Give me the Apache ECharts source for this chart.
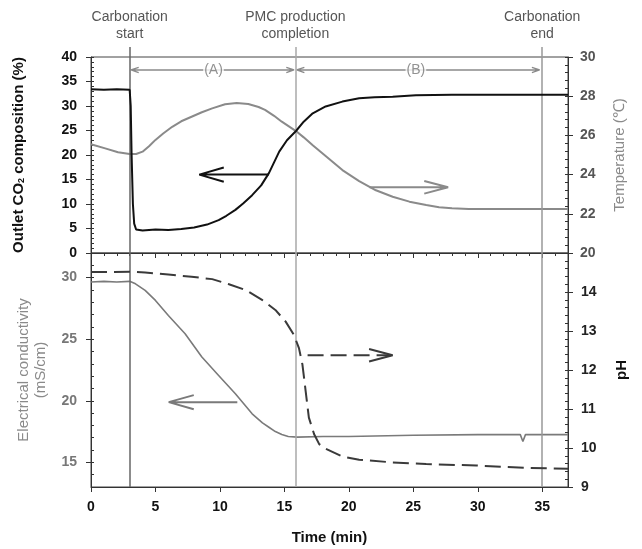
<!DOCTYPE html>
<html>
<head>
<meta charset="utf-8">
<script src="https://cdn.jsdelivr.net/npm/echarts@6/dist/echarts.min.js"></script>
<style>html,body{margin:0;padding:0;background:#fff;}#c{width:642px;height:549px;}</style>
</head>
<body>
<div id="c"></div>
<script>
// ---------- data ----------
const co2Time = [0, 1, 2, 3.0, 3.08, 3.15, 3.25, 3.35, 3.5, 4, 5, 6, 7, 8, 9, 9.9, 10.5, 11.2, 11.8, 12.5, 13.2, 13.8, 14.2, 14.6, 15.2, 15.9, 16.5, 17.2, 18.2, 19.5, 20.8, 22, 23.4, 25.2, 28, 32, 37];
const co2Value = [33.4, 33.3, 33.4, 33.3, 30, 20, 10, 6, 4.8, 4.6, 4.8, 4.7, 4.9, 5.2, 5.8, 6.7, 7.6, 8.8, 10.1, 11.8, 13.8, 16.3, 18.5, 20.7, 23.0, 24.9, 26.8, 28.5, 29.9, 30.9, 31.6, 31.8, 31.9, 32.2, 32.3, 32.3, 32.3];

const tempTime = [0, 1.1, 2.1, 3.0, 3.5, 4.0, 4.5, 5.0, 5.6, 6.3, 7.0, 7.8, 8.6, 9.4, 10.4, 11.3, 12.2, 13.0, 13.5, 14.2, 14.8, 15.9, 16.5, 17.2, 18.2, 19.5, 20.8, 22.1, 23.4, 24.7, 26.0, 27.0, 28, 29.3, 37];
const tempValue = [25.55, 25.34, 25.14, 25.05, 25.05, 25.17, 25.45, 25.77, 26.1, 26.44, 26.72, 26.95, 27.18, 27.38, 27.59, 27.65, 27.6, 27.45, 27.3, 27.0, 26.7, 26.22, 25.9, 25.5, 24.95, 24.23, 23.67, 23.2, 22.87, 22.62, 22.45, 22.33, 22.28, 22.24, 22.24];

const ecTime = [0, 1, 2, 3.0, 3.45, 4.2, 5.0, 6.0, 7.3, 8.6, 9.9, 11.2, 12.5, 13.3, 13.8, 14.3, 14.8, 15.3, 16, 18, 20, 25, 30, 33.3, 33.5, 33.7, 37];
const ecValue = [29.65, 29.7, 29.65, 29.7, 29.5, 28.97, 28.15, 26.93, 25.45, 23.55, 22.06, 20.57, 18.94, 18.2, 17.85, 17.5, 17.26, 17.1, 17.05, 17.1, 17.1, 17.2, 17.25, 17.25, 16.7, 17.25, 17.25];

const phTime = [0, 3, 4.2, 6, 7.8, 9.4, 10.7, 12.0, 13.3, 14.3, 15.1, 15.74, 16.13, 16.4, 16.65, 16.9, 17.3, 17.7, 18.2, 19.5, 20.8, 23.4, 26, 29.9, 33.7, 37];
const phValue = [14.51, 14.52, 14.5, 14.45, 14.39, 14.33, 14.2, 14.05, 13.79, 13.54, 13.24, 12.9, 12.56, 12.14, 11.46, 10.78, 10.36, 10.1, 9.98, 9.78, 9.7, 9.63, 9.59, 9.55, 9.49, 9.47];

const co2Ticks = [0, 5, 10, 15, 20, 25, 30, 35, 40];
const tempTicks = [20, 22, 24, 26, 28, 30];
const ecTicks = [15, 20, 25, 30];
const phTicks = [9, 10, 11, 12, 13, 14];
const timeTicks = [0, 5, 10, 15, 20, 25, 30, 35];

const markerTimes = [3, 15.85, 35];
const markerLabels = ['Carbonation\nstart', 'PMC production\ncompletion', 'Carbonation\nend'];

// annotation arrows (data coordinates)
const arrowAB = [[3.1, 37.35], [15.75, 37.35], [15.95, 37.35], [34.8, 37.35]];
const arrowABText = [[9.5, 37.35, '(A)'], [25.2, 37.35, '(B)']];
const co2Arrow = [[13.8, 16], [8.4, 16], [10.3, 17.45], [8.4, 16], [10.3, 14.55]];
const tempArrow = [[21.6, 23.35], [27.7, 23.35], [25.85, 23.67], [27.7, 23.35], [25.85, 23.03]];
const ecArrow = [[11.35, 19.89], [6.03, 19.89], [7.97, 20.46], [6.03, 19.89], [7.97, 19.32]];
const phArrowShaft = [[16.8, 12.38], [23.2, 12.38]];
const phArrowHead = [[21.57, 12.54], [23.4, 12.38], [21.57, 12.22]];

// ---------- helpers ----------
const zip = (a, b) => a.map((v, i) => [v, b[i]]);
function headPair(tipL, tipR, y, hl, hw) {
  return [[tipL + hl, y + hw], [tipL, y], [tipL + hl, y - hw], [tipL, y], [tipR, y], [tipR - hl, y + hw], [tipR, y], [tipR - hl, y - hw]];
}

const FONT = 'Liberation Sans, Arial, sans-serif';
const GL = 91, GW = 477;

function majorAxis(extra) {
  return Object.assign({
    type: 'value', splitLine: { show: false },
    axisLine: { show: true, lineStyle: { color: '#333', width: 1 } },
    axisTick: { show: true, inside: false, length: 5, lineStyle: { color: '#333' } },
    axisLabel: { fontFamily: FONT, fontSize: 14, fontWeight: 'bold', color: '#111' }
  }, extra);
}
function minorAxis(extra) {
  return Object.assign({
    type: 'value', splitLine: { show: false },
    axisLine: { show: false },
    axisTick: { show: true, inside: true, length: 3, lineStyle: { color: '#333' } },
    axisLabel: { show: false }
  }, extra);
}

const chart = echarts.init(document.getElementById('c'), null, { renderer: 'canvas' });

const abData = [
  ...headPair(arrowAB[0][0], arrowAB[1][0], arrowAB[0][1], 0.6, 0.55)
];
const abData2 = headPair(arrowAB[2][0], arrowAB[3][0], arrowAB[2][1], 0.6, 0.55);

chart.setOption({
  animation: false,
  backgroundColor: '#fff',
  grid: [
    { left: GL, width: GW, top: 57, height: 196, show: true, borderColor: '#444', borderWidth: 1 },
    { left: GL, width: GW, top: 253, height: 234, show: true, borderColor: '#444', borderWidth: 1 },
    { left: GL, width: GW, top: 47, height: 440 }
  ],
  xAxis: [
    majorAxis({ gridIndex: 0, min: 0, max: 37, axisLabel: { show: false }, axisTick: { show: true, inside: false, length: 5, customValues: timeTicks, lineStyle: { color: '#333' } } }),
    minorAxis({ gridIndex: 0, min: 0, max: 37, interval: 1 }),
    majorAxis({ gridIndex: 1, min: 0, max: 37,
      axisTick: { show: true, inside: false, length: 5, customValues: timeTicks, lineStyle: { color: '#333' } },
      axisLabel: { fontFamily: FONT, fontSize: 14, fontWeight: 'bold', color: '#111', margin: 13, customValues: timeTicks },
      name: 'Time (min)', nameLocation: 'middle', nameGap: 43,
      nameTextStyle: { fontFamily: FONT, fontSize: 15, fontWeight: 'bold', color: '#111' } }),
    minorAxis({ gridIndex: 1, min: 0, max: 37, interval: 1 }),
    { type: 'value', gridIndex: 2, min: 0, max: 37, show: false }
  ],
  yAxis: [
    majorAxis({ gridIndex: 0, min: 0, max: 40, position: 'left',
      axisTick: { show: true, inside: false, length: 5, customValues: co2Ticks, lineStyle: { color: '#333' } },
      axisLabel: { fontFamily: FONT, fontSize: 14, fontWeight: 'bold', color: '#111', margin: 14, customValues: co2Ticks },
      name: '{b|Outlet CO}{s|2}{b| composition (%)}', nameLocation: 'middle', nameRotate: 90, nameGap: 65,
      nameTextStyle: { rich: { b: { fontFamily: FONT, fontSize: 15, fontWeight: 'bold', color: '#111' }, s: { fontFamily: FONT, fontSize: 9, fontWeight: 'bold', color: '#111', verticalAlign: 'bottom', padding: [5, 0, 0, 0] } } } }),
    minorAxis({ gridIndex: 0, min: 0, max: 40, interval: 1, position: 'left' }),
    majorAxis({ gridIndex: 0, min: 20, max: 30, position: 'right',
      axisTick: { show: true, inside: false, length: 5, customValues: tempTicks, lineStyle: { color: '#333' } },
      axisLabel: { fontFamily: FONT, fontSize: 14, fontWeight: 'bold', color: '#555', margin: 12, customValues: tempTicks },
      name: 'Temperature (℃)', nameLocation: 'middle', nameRotate: 90, nameGap: 44,
      nameTextStyle: { fontFamily: FONT, fontSize: 15, color: '#8a8a8a' } }),
    minorAxis({ gridIndex: 0, min: 20, max: 30, interval: 0.4, position: 'right' }),
    majorAxis({ gridIndex: 1, min: 13, max: 32, position: 'left',
      axisTick: { show: true, inside: false, length: 5, customValues: ecTicks, lineStyle: { color: '#333' } },
      axisLabel: { fontFamily: FONT, fontSize: 14, fontWeight: 'bold', color: '#777', margin: 14, customValues: ecTicks },
      name: 'Electrical conductivity\n(mS/cm)', nameLocation: 'middle', nameRotate: 90, nameGap: 42,
      nameTextStyle: { fontFamily: FONT, fontSize: 15, color: '#8a8a8a', lineHeight: 17 } }),
    minorAxis({ gridIndex: 1, min: 13, max: 32, interval: 1, position: 'left' }),
    majorAxis({ gridIndex: 1, min: 9, max: 15, position: 'right',
      axisTick: { show: true, inside: false, length: 5, customValues: phTicks, lineStyle: { color: '#333' } },
      axisLabel: { fontFamily: FONT, fontSize: 14, fontWeight: 'bold', color: '#222', margin: 13, customValues: phTicks },
      name: 'pH', nameLocation: 'middle', nameRotate: 90, nameGap: 46,
      nameTextStyle: { fontFamily: FONT, fontSize: 15, fontWeight: 'bold', color: '#111' } }),
    minorAxis({ gridIndex: 1, min: 9, max: 15, interval: 0.2, position: 'right' }),
    { type: 'value', gridIndex: 2, min: 0, max: 1, show: false }
  ],
  series: [
    { type: 'line', xAxisIndex: 4, yAxisIndex: 8, data: [], silent: true, z: 1,
      markLine: { silent: true, symbol: 'none', animation: false,
        label: { show: true, position: 'end', distance: 4, fontFamily: FONT, fontSize: 14, lineHeight: 17, color: '#555' },
        data: markerTimes.map((t, i) => ({ xAxis: t,
          label: { formatter: markerLabels[i] },
          lineStyle: { type: 'solid', width: 1.5, color: ['#666', '#a8a8a8', '#999'][i] } })) } },
    { type: 'line', xAxisIndex: 0, yAxisIndex: 0, data: zip(co2Time, co2Value), showSymbol: false, z: 5,
      lineStyle: { color: '#111', width: 2 } },
    { type: 'line', xAxisIndex: 0, yAxisIndex: 2, data: zip(tempTime, tempValue), showSymbol: false, z: 4,
      lineStyle: { color: '#8a8a8a', width: 2 } },
    { type: 'line', xAxisIndex: 2, yAxisIndex: 4, data: zip(ecTime, ecValue), showSymbol: false, z: 4,
      lineStyle: { color: '#7a7a7a', width: 1.6 } },
    { type: 'line', xAxisIndex: 2, yAxisIndex: 6, data: zip(phTime, phValue), showSymbol: false, z: 5,
      lineStyle: { color: '#3a3a3a', width: 2, type: [16, 7] } },
    // annotation arrows
    { type: 'line', xAxisIndex: 0, yAxisIndex: 0, data: abData, showSymbol: false, z: 3,
      lineStyle: { color: '#8a8a8a', width: 1.3 } },
    { type: 'line', xAxisIndex: 0, yAxisIndex: 0, data: abData2, showSymbol: false, z: 3,
      lineStyle: { color: '#8a8a8a', width: 1.3 } },
    { type: 'scatter', xAxisIndex: 0, yAxisIndex: 0, data: arrowABText, symbolSize: 0, z: 6,
      label: { show: true, position: 'inside', formatter: p => p.value[2], fontFamily: FONT, fontSize: 14, color: '#777', backgroundColor: '#fff', padding: [0, 1] } },
    { type: 'line', xAxisIndex: 0, yAxisIndex: 0, data: co2Arrow, showSymbol: false, z: 5,
      lineStyle: { color: '#111', width: 2 } },
    { type: 'line', xAxisIndex: 0, yAxisIndex: 2, data: tempArrow, showSymbol: false, z: 5,
      lineStyle: { color: '#8a8a8a', width: 2 } },
    { type: 'line', xAxisIndex: 2, yAxisIndex: 4, data: ecArrow, showSymbol: false, z: 5,
      lineStyle: { color: '#7a7a7a', width: 2 } },
    { type: 'line', xAxisIndex: 2, yAxisIndex: 6, data: phArrowShaft, showSymbol: false, z: 5,
      lineStyle: { color: '#3a3a3a', width: 2, type: [16, 7] } },
    { type: 'line', xAxisIndex: 2, yAxisIndex: 6, data: phArrowHead, showSymbol: false, z: 5,
      lineStyle: { color: '#3a3a3a', width: 2 } }
  ]
});
</script>
</body>
</html>
